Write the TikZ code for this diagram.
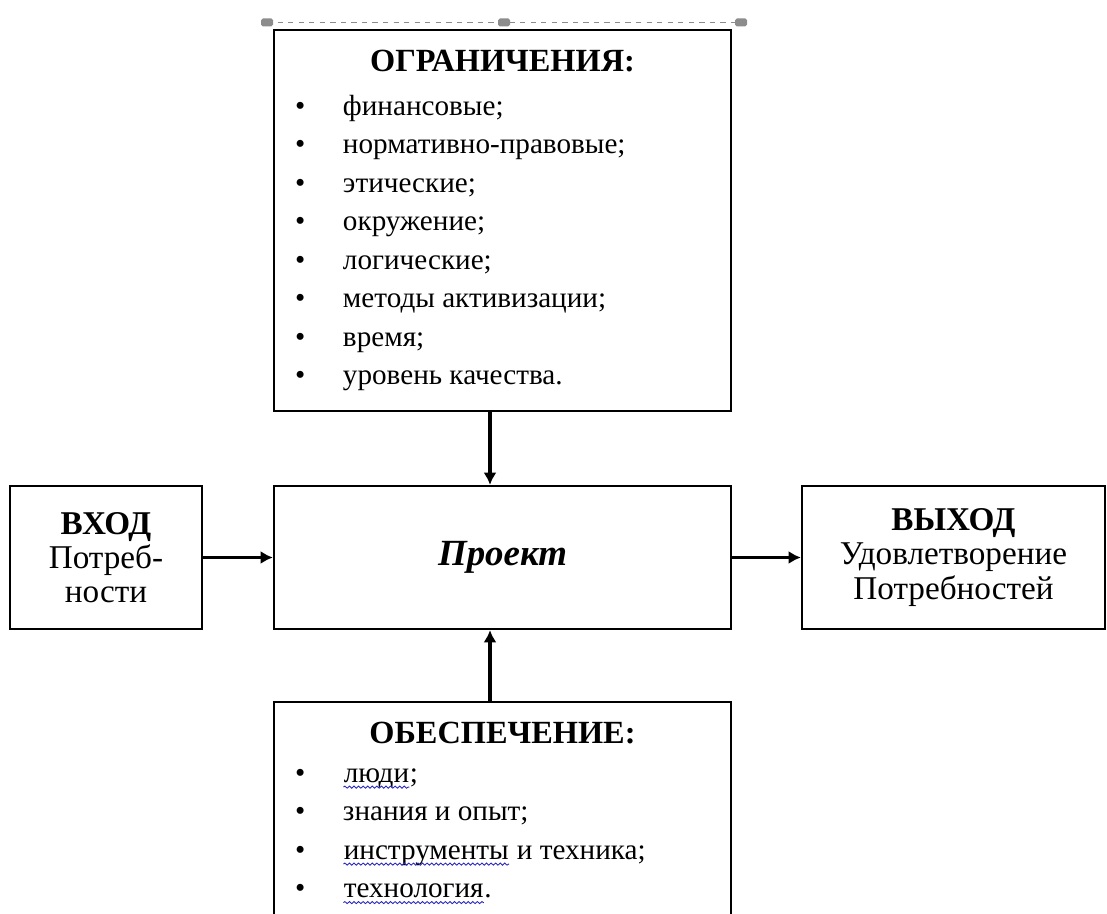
\documentclass[tikz,border=0pt]{standalone}
\usepackage{fontspec}
\setmainfont{Liberation Serif}
\usetikzlibrary{arrows.meta,positioning,decorations.pathmorphing}
\definecolor{spellblue}{RGB}{40,40,190}
\definecolor{handlegray}{RGB}{140,140,140}
\newcommand{\spellerr}[1]{\tikz[baseline=(w.base)]{\node[draw=none, inner sep=0pt,
    minimum width=0pt, minimum height=0pt] (w) {#1};
  \draw[spellblue, line width=0.5pt, decorate,
        decoration={snake, amplitude=0.6pt, segment length=2.6pt}]
    ([yshift=-2.8pt]w.base west) -- ([yshift=-2.8pt]w.base east);}}
\newcommand{\lstfont}{\fontsize{16.6}{21.9}\selectfont}
\newcommand{\hdfont}{\fontsize{18.4}{21.9}\selectfont\bfseries}
\tikzset{
  blk/.style={draw=black, line width=1.3pt, inner sep=0pt, align=center},
  sidetxt/.style={font=\fontsize{18.9}{19.4}\selectfont},
  flowarr/.style={-{Latex[length=7pt,width=7.5pt]}, line width=1.9pt},
  selline/.style={draw=handlegray, dashed, line width=0.6pt},
  handle/.style={fill=handlegray, rounded corners=1pt, minimum width=0.24cm,
                 minimum height=0.16cm, inner sep=0pt},
}

\begin{document}
\begin{tikzpicture}
    \useasboundingbox (0,0) rectangle (22.14,-18.28);
    \clip (0,0) rectangle (22.14,-18.28);
    % selection frame above the top box
    \coordinate (hl) at (5.34,-0.45);
    \coordinate (hm) at (10.08,-0.45);
    \coordinate (hr) at (14.82,-0.45);
    \draw[selline] (hl) -- (hr);
    \node[handle] (h1) at (hl) {}; \node[handle] (h2) at (hm) {}; \node[handle] (h3) at (hr) {};
    \node[blk, minimum width=9.14cm, minimum height=7.62cm] (ogr) at (10.05,-4.41)
         {\lstfont\begin{tabular}{@{}p{0.96cm}@{}p{7.34cm}@{}}
          \multicolumn{2}{@{}c@{}}{\hdfont ОГРАНИЧЕНИЯ:}\\[3pt]
          • & финансовые;\\
          • & нормативно-правовые;\\
          • & этические;\\
          • & окружение;\\
          • & логические;\\
          • & методы активизации;\\
          • & время;\\
          • & уровень качества.
          \end{tabular}};
    \node[blk, minimum width=9.14cm, minimum height=2.86cm,
          font=\fontsize{21}{22}\selectfont] (proj) at (10.05,-11.15)
         {\textbf{\textit{Проект}}};
    \node[blk, sidetxt, minimum width=3.84cm, minimum height=2.86cm] (vhod) at (2.12,-11.15)
         {\textbf{ВХОД}\\ Потреб-\\ ности};
    \node[blk, sidetxt, minimum width=6.06cm, minimum height=2.86cm] (vyhod) at (19.07,-11.15)
         {\textbf{ВЫХОД}\\ Удовлетворение\\ Потребностей};
    \node[blk, minimum width=9.14cm, minimum height=4.44cm] (obes) at (10.05,-16.26)
         {\lstfont\begin{tabular}{@{}p{0.96cm}@{}p{7.34cm}@{}}
          \multicolumn{2}{@{}c@{}}{\hdfont ОБЕСПЕЧЕНИЕ:}\\
          • & \spellerr{люди};\\
          • & знания и опыт;\\
          • & \spellerr{инструменты} и техника;\\
          • & \spellerr{технология}.
          \end{tabular}};
    \draw[flowarr] ([xshift=-0.25cm]ogr.south) -- ([xshift=-0.25cm]proj.north);
    \draw[flowarr] ([xshift=-0.25cm]obes.north) -- ([xshift=-0.25cm]proj.south);
    \draw[flowarr] (vhod) -- (proj); \draw[flowarr] (proj) -- (vyhod);
\end{tikzpicture}
\end{document}
